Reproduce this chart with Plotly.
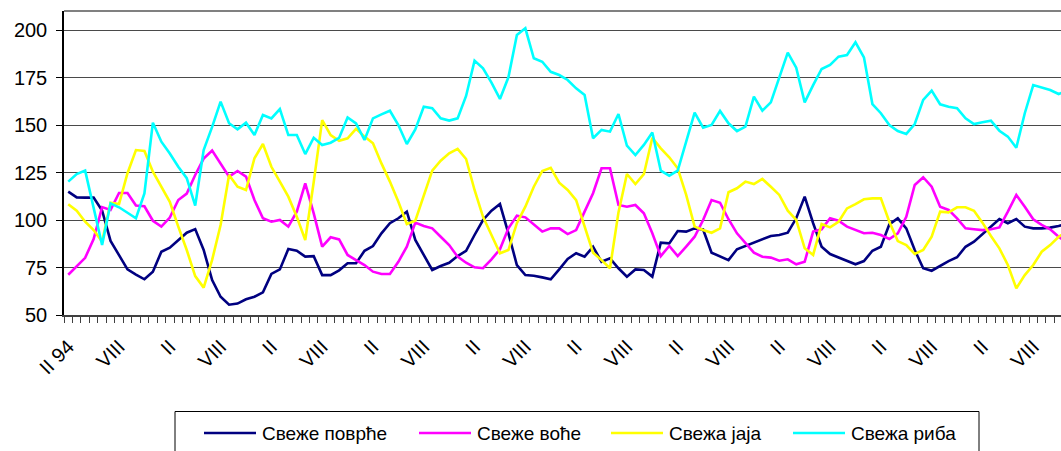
import plotly.graph_objects as go

# ---------------- data ----------------
series_names = ["Свеже поврће", "Свеже воће", "Свежа јаја", "Свежа риба"]

povrce = [114.9, 111.9, 111.8, 111.8, 105.0, 89.0, 81.5, 74.0, 71.3, 68.8,
          72.8, 83.3, 85.4, 89.5, 93.3, 95.2, 84.2, 68.4, 59.6, 55.4,
          56.0, 58.3, 59.6, 61.9, 71.6, 74.0, 84.7, 83.8, 80.7, 81.0,
          71.0, 71.0, 73.5, 77.2, 77.2, 83.8, 86.3, 93.0, 98.3, 100.9,
          104.4, 89.5, 81.6, 73.7, 75.8, 77.5, 81.0, 83.8, 92.1, 100.0,
          104.9, 108.4, 93.0, 76.3, 71.0, 70.7, 69.8, 68.8, 74.0, 79.5,
          82.5, 80.7, 85.9, 78.0, 79.8, 74.6, 70.2, 74.0, 73.7, 70.2,
          88.1, 87.7, 94.2, 93.9, 95.6, 95.0, 82.8, 80.7, 78.9, 84.6,
          86.3, 88.1, 89.8, 91.6, 92.1, 93.3, 100.9, 112.3, 98.3, 85.9,
          82.1, 80.2, 78.4, 76.7, 78.4, 83.8, 85.9, 97.7, 100.9, 95.6,
          84.2, 74.6, 73.3, 76.0, 78.4, 80.4, 85.9, 88.6, 92.5, 96.5,
          100.5, 98.3, 100.5, 96.5, 95.6, 95.6, 96.0, 96.8, 98.0]

voce = [71.2, 75.7, 80.1, 90.0, 106.8, 105.3, 114.2, 114.2, 107.6, 107.2,
        99.6, 96.5, 101.3, 110.5, 113.9, 123.7, 132.3, 136.6, 129.8, 122.8,
        125.8, 122.8, 110.5, 100.9, 99.1, 100.0, 96.5, 104.4, 119.3, 103.5,
        86.0, 90.9, 89.8, 81.6, 78.9, 76.3, 72.8, 71.6, 71.6, 78.0,
        86.0, 98.6, 96.8, 95.6, 91.2, 86.8, 80.7, 77.5, 75.1, 74.6,
        79.3, 84.6, 95.6, 102.3, 101.4, 97.4, 93.9, 95.6, 95.6, 92.6,
        94.7, 104.4, 114.1, 127.2, 127.2, 107.9, 107.0, 107.9, 103.5, 93.0,
        81.0, 86.3, 81.0, 86.0, 91.2, 100.0, 110.5, 109.1, 100.4, 93.0,
        87.7, 82.8, 80.7, 80.2, 78.6, 79.3, 76.7, 78.0, 93.9, 95.1,
        100.9, 99.6, 96.5, 94.7, 93.0, 93.3, 92.1, 90.0, 93.0, 101.7,
        118.4, 122.5, 117.5, 107.0, 105.3, 100.9, 95.6, 95.1, 94.7, 95.1,
        96.1, 104.4, 113.2, 107.0, 100.4, 97.4, 95.1, 91.2, 88.0]

jaja = [108.3, 104.9, 99.1, 94.7, 88.6, 109.1, 108.4, 124.6, 136.8, 136.3,
        125.4, 117.5, 109.6, 96.5, 84.2, 70.5, 64.4, 79.0, 97.4, 123.7,
        117.5, 115.8, 132.5, 140.0, 128.0, 120.2, 112.3, 101.7, 89.5, 120.0,
        152.6, 144.7, 141.7, 143.0, 148.0, 143.9, 140.4, 129.8, 120.2, 109.6,
        97.9, 99.6, 113.2, 126.0, 131.2, 135.1, 137.4, 132.1, 115.8, 101.7,
        92.1, 82.5, 84.2, 98.3, 107.0, 117.5, 125.8, 127.5, 119.6, 115.8,
        110.5, 96.5, 82.8, 78.9, 74.6, 104.0, 124.2, 118.9, 124.1, 143.3,
        137.7, 133.0, 127.2, 113.2, 96.5, 94.7, 93.3, 95.6, 114.6, 116.7,
        120.2, 118.9, 121.6, 117.5, 113.2, 104.9, 100.0, 85.1, 81.6, 97.9,
        96.1, 99.1, 106.1, 108.4, 110.9, 111.4, 111.4, 99.1, 88.9, 86.8,
        82.1, 84.2, 91.2, 104.4, 104.0, 106.7, 106.7, 104.9, 98.6, 91.6,
        85.1, 76.3, 64.0, 71.0, 76.3, 83.3, 86.8, 91.2, 94.0]

riba = [120.2, 124.2, 126.0, 106.0, 86.8, 108.8, 106.7, 103.8, 100.9, 114.0,
        151.2, 141.2, 135.0, 128.0, 122.0, 107.6, 136.8, 149.0, 162.3, 150.9,
        147.7, 151.2, 144.7, 155.3, 153.5, 158.4, 144.7, 144.7, 134.7, 143.3,
        139.5, 140.7, 143.2, 154.0, 150.8, 142.1, 153.5, 155.6, 157.5, 150.0,
        140.0, 147.7, 159.6, 158.8, 153.5, 152.3, 153.5, 165.3, 183.9, 179.8,
        172.3, 163.7, 175.1, 197.4, 200.9, 185.1, 183.3, 178.0, 176.3, 173.7,
        169.3, 165.8, 143.0, 147.4, 146.5, 155.8, 139.1, 134.2, 139.5, 146.1,
        126.0, 123.3, 126.0, 141.2, 156.5, 148.6, 150.0, 157.4, 150.9, 146.8,
        149.1, 164.9, 157.5, 161.9, 175.4, 188.1, 180.2, 161.9, 171.0, 179.5,
        181.6, 186.0, 186.8, 193.5, 185.6, 161.0, 156.2, 150.0, 146.8, 145.3,
        150.5, 163.2, 168.1, 160.9, 159.6, 158.8, 153.5, 150.5, 151.4, 152.3,
        147.0, 143.9, 138.0, 156.2, 171.0, 169.8, 168.4, 166.3, 168.0]

# label every 6th month, starting with February 1994
tick_positions = [0, 6, 12, 18, 24, 30, 36, 42, 48, 54,
                  60, 66, 72, 78, 84, 90, 96, 102, 108, 114]
tick_labels = ["II 94", "VIII", "II", "VIII", "II", "VIII", "II", "VIII", "II", "VIII",
               "II", "VIII", "II", "VIII", "II", "VIII", "II", "VIII", "II", "VIII"]

y_ticks = [50, 75, 100, 125, 150, 175, 200]

colors = ["#000080", "#FF00FF", "#FFFF00", "#00FFFF"]

# ---------------- figure ----------------
W, H = 1061, 451
ML, MR, MT, MB = 64, 0, 11, 136
PW, PH = W - ML - MR, H - MT - MB
FONT = "Liberation Sans, Arial, sans-serif"

fig = go.Figure()
for name, vals, col in zip(series_names, [povrce, voce, jaja, riba], colors):
    fig.add_trace(go.Scatter(
        x=list(range(len(vals))), y=vals, mode="lines", name=name,
        line=dict(color=col, width=2.6), showlegend=False,
    ))

fig.update_layout(
    width=W, height=H,
    margin=dict(l=ML, r=MR, t=MT, b=MB, autoexpand=False),
    paper_bgcolor="white", plot_bgcolor="white",
    font=dict(family=FONT, color="black"),
    xaxis=dict(
        range=[-0.5, -0.5 + PW / 8.465],
        tickmode="array", tickvals=tick_positions, ticktext=tick_labels,
        tickangle=-45, ticks="", tickfont=dict(size=20, family=FONT, color="black"),
        ticklabelstandoff=10,
        showline=True, linecolor="#404040", linewidth=2,
        showgrid=False, zeroline=False, automargin=False,
        minor=dict(ticks="outside", ticklen=6, tickwidth=1, tickcolor="#404040",
                   tickmode="linear", tick0=-0.5, dtick=1, showgrid=False),
    ),
    yaxis=dict(
        range=[50, 210], tickmode="array", tickvals=y_ticks,
        ticks="outside", ticklen=6, tickwidth=1, tickcolor="black",
        tickfont=dict(size=20, family=FONT, color="black"),
        ticklabelstandoff=5,
        showline=True, linecolor="black", linewidth=1.5,
        showgrid=True, gridcolor="#4a4a4a", gridwidth=1.3,
        zeroline=False, automargin=False,
    ),
)

# top border of the plot area
fig.add_shape(type="line", xref="paper", yref="paper", x0=0, x1=1, y0=1, y1=1,
              line=dict(color="#808080", width=2))

# ---------------- legend box drawn below the plot ----------------
def px_x(p):
    return (p - ML) / PW

def px_y(p):
    return (H - MB - p) / PH

legend_box = dict(left=175, right=979, top=411.5, bottom=458)
legend_row_y = 433
legend_line_starts = [204, 419, 611, 793]
line_len = 52
text_gap = 6

fig.add_shape(type="rect", xref="paper", yref="paper",
              x0=px_x(legend_box["left"]), x1=px_x(legend_box["right"]),
              y0=px_y(legend_box["bottom"]), y1=px_y(legend_box["top"]),
              line=dict(color="black", width=1), fillcolor="rgba(0,0,0,0)")
for name, col, xs in zip(series_names, colors, legend_line_starts):
    fig.add_shape(type="line", xref="paper", yref="paper",
                  x0=px_x(xs), x1=px_x(xs + line_len),
                  y0=px_y(legend_row_y), y1=px_y(legend_row_y),
                  line=dict(color=col, width=2.6))
    fig.add_annotation(text=name, xref="paper", yref="paper",
                       x=px_x(xs + line_len + text_gap - 2), y=px_y(legend_row_y),
                       xanchor="left", yanchor="middle", showarrow=False,
                       font=dict(size=19, family=FONT, color="black"))

fig.write_html("out.html",
               config={"displayModeBar": False},
               post_script="document.body.style.margin='0px';"
                           "document.body.style.overflow='hidden';")
